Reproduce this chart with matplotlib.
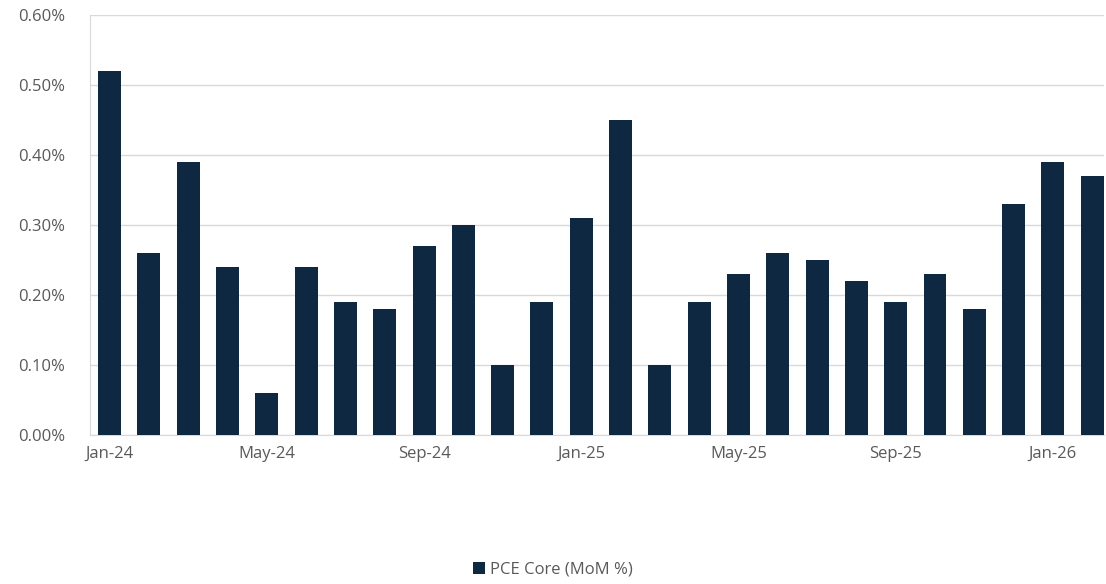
import matplotlib
matplotlib.use("Agg")
import matplotlib.pyplot as plt
from matplotlib.ticker import FuncFormatter, MultipleLocator

months = ["Jan-24","Feb-24","Mar-24","Apr-24","May-24","Jun-24","Jul-24","Aug-24","Sep-24","Oct-24","Nov-24","Dec-24",
          "Jan-25","Feb-25","Mar-25","Apr-25","May-25","Jun-25","Jul-25","Aug-25","Sep-25","Oct-25","Nov-25","Dec-25",
          "Jan-26","Feb-26"]
pce_core = [0.52,0.26,0.39,0.24,0.06,0.24,0.19,0.18,0.27,0.30,0.10,0.19,
            0.31,0.45,0.10,0.19,0.23,0.26,0.25,0.22,0.19,0.23,0.18,0.33,
            0.39,0.37]
series_name = "PCE Core (MoM %)"

plt.rcParams['font.family'] = ['Open Sans', 'DejaVu Sans']
fig = plt.figure(figsize=(11.06, 5.84), dpi=100)
ax = fig.add_axes([90/1106, 1-435/584, 1014/1106, 420/584])

x = list(range(len(months)))
ax.bar(x, pce_core, width=0.585, color="#0E2841", label=series_name, zorder=3)

ax.set_xlim(-0.5, len(months)-0.7)
ax.set_ylim(0, 0.6)
ax.yaxis.set_major_locator(MultipleLocator(0.1))
ax.yaxis.set_major_formatter(FuncFormatter(lambda v, p: f"{v:.2f}%"))
ax.grid(axis='y', color="#D9D9D9", linewidth=1, zorder=0)
tick_pos = x[::4]
ax.set_xticks(tick_pos)
ax.set_xticklabels([months[i] for i in tick_pos])
for s in ["top", "right"]:
    ax.spines[s].set_visible(False)
for s in ["left", "bottom"]:
    ax.spines[s].set_color("#D9D9D9")
ax.tick_params(axis='both', length=0, labelsize=12, colors="#595959", pad=8)
ax.tick_params(axis='y', pad=18)

fig.legend(loc='lower center', bbox_to_anchor=(0.5, -0.015), frameon=False,
           fontsize=12, labelcolor="#595959", handlelength=0.7, handleheight=0.7,
           handletextpad=0.3)

fig.savefig("out.png", dpi=100)
